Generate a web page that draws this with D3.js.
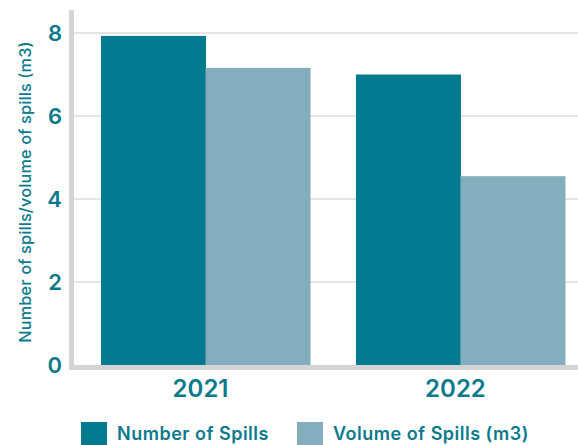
<!DOCTYPE html>
<html>
<head>
<meta charset="utf-8">
<script src="https://cdn.jsdelivr.net/npm/d3@7"></script>
<style>
  body { margin: 0; background: #fff; }
  svg text { font-family: Inter, "Liberation Sans", Arial, sans-serif; fill: #0a7a8c; }
</style>
</head>
<body>
<svg id="chart" width="578" height="445"></svg>
<script>
'use strict'
// data
const years = ['2021', '2022']
const seriesNames = ['Number of Spills', 'Volume of Spills (m3)']
const numberOfSpills = [7.93, 7.0]
const volumeOfSpills = [7.16, 4.55]
const yTicks = [0, 2, 4, 6, 8]

const colors = ['#037a8f', '#84adbd']

const svg = d3.select('#chart')
const W = 578

const y = d3.scaleLinear()
  .domain([0, 8])
  .range([365, 33])

const x0 = d3.scaleBand()
  .domain(years)
  .range([74, 592])
  .paddingInner(0.18)
  .paddingOuter(0.106)

const x1 = d3.scaleBand()
  .domain(seriesNames)
  .range([0, x0.bandwidth()])

// gridlines
svg.append('g')
  .selectAll('line')
  .data(yTicks.filter(d => d > 0))
  .enter().append('line')
  .attr('x1', 74).attr('x2', W)
  .attr('y1', d => y(d)).attr('y2', d => y(d))
  .attr('stroke', '#dcdcdc')
  .attr('stroke-width', 1.5)

// bars
const rows = years.map((yr, i) => ({ year: yr, values: [numberOfSpills[i], volumeOfSpills[i]] }))

svg.append('g')
  .selectAll('g')
  .data(rows)
  .enter().append('g')
  .attr('transform', d => 'translate(' + x0(d.year) + ',0)')
  .selectAll('rect')
  .data(d => d.values.map((v, i) => ({ name: seriesNames[i], value: v, i: i })))
  .enter().append('rect')
  .attr('x', d => x1(d.name))
  .attr('y', d => y(d.value))
  .attr('width', x1.bandwidth() + 0.5)
  .attr('height', d => y(0) - y(d.value))
  .attr('fill', d => colors[d.i])

// axis lines (thick light grey)
svg.append('line')
  .attr('x1', 71.5).attr('x2', 71.5)
  .attr('y1', 10).attr('y2', 370)
  .attr('stroke', '#d4d4d6').attr('stroke-width', 5)
svg.append('line')
  .attr('x1', 69).attr('x2', W)
  .attr('y1', 367.5).attr('y2', 367.5)
  .attr('stroke', '#d4d4d6').attr('stroke-width', 5)

// y tick labels
svg.append('g')
  .selectAll('text')
  .data(yTicks)
  .enter().append('text')
  .attr('x', 62)
  .attr('y', d => y(d))
  .attr('dy', '0.36em')
  .attr('text-anchor', 'end')
  .style('font-size', '22px')
  .style('font-weight', 600)
  .text(d => d)

// x labels
svg.append('g')
  .selectAll('text')
  .data(years)
  .enter().append('text')
  .attr('x', d => x0(d) + x0.bandwidth() / 2 - 5)
  .attr('y', 397)
  .attr('text-anchor', 'middle')
  .style('font-size', '24px')
  .style('font-weight', 600)
  .text(d => d)

// y axis title
svg.append('text')
  .attr('transform', 'translate(31,192) rotate(-90)')
  .attr('text-anchor', 'middle')
  .style('font-size', '16.3px')
  .style('font-weight', 500)
  .style('letter-spacing', '0.15px')
  .text('Number of spills/volume of spills (m3)')

// legend
const legendX = [81, 297]
const legend = svg.append('g')
  .selectAll('g')
  .data(seriesNames)
  .enter().append('g')
  .attr('transform', (d, i) => 'translate(' + legendX[i] + ',422)')
legend.append('rect')
  .attr('width', 26).attr('height', 26)
  .attr('fill', (d, i) => colors[i])
legend.append('text')
  .attr('x', 36).attr('y', 18)
  .style('font-size', '18px')
  .style('font-weight', 600)
  .style('letter-spacing', '0.5px')
  .text(d => d)
</script>
</body>
</html>
